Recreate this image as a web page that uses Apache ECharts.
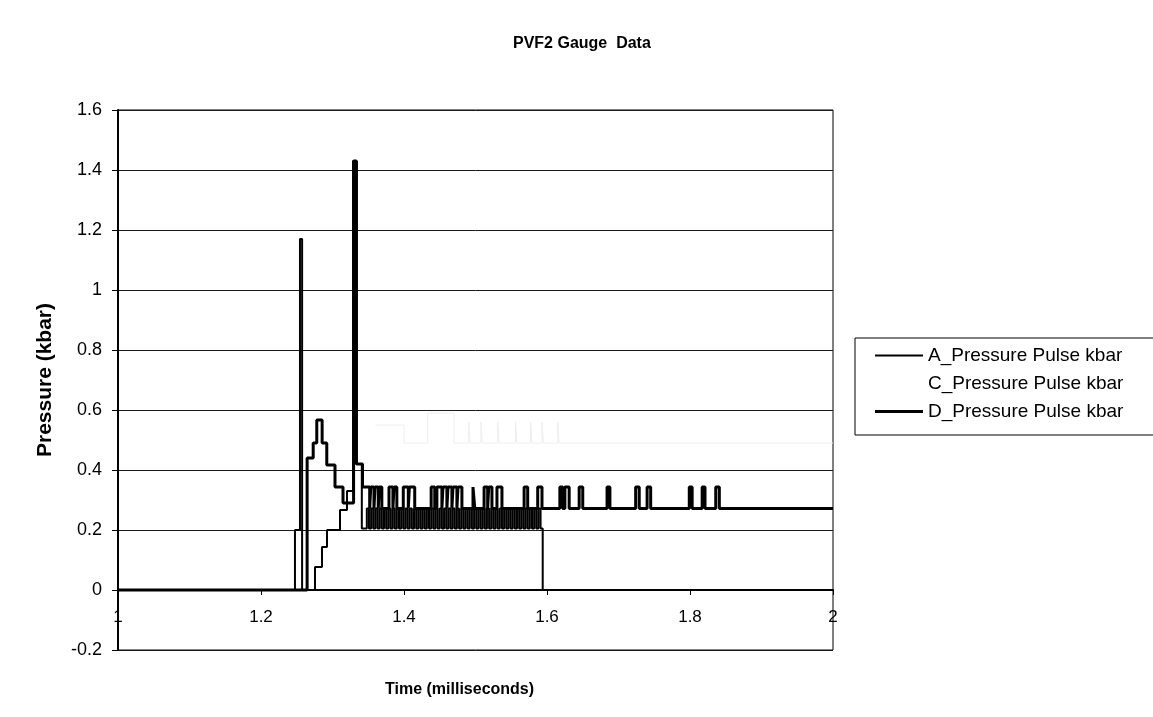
<!DOCTYPE html>
<html>
<head>
<meta charset="utf-8">
<script src="https://cdn.jsdelivr.net/npm/echarts@6/dist/echarts.min.js"></script>
<style>
html,body{margin:0;padding:0;background:#fff;}
#chart{width:1153px;height:717px;}
</style>
</head>
<body>
<div id="chart"></div>
<script>
// ---- data (time in ms, pressure in kbar) ----
const seriesNames = ['A_Pressure Pulse kbar', 'C_Pressure Pulse kbar', 'D_Pressure Pulse kbar'];
const xTickLabels = ['1', '1.2', '1.4', '1.6', '1.8', '2'];
const yTickLabels = ['-0.2', '0', '0.2', '0.4', '0.6', '0.8', '1', '1.2', '1.4', '1.6'];

// A: first spike, inner staircase, dense band 0.205-0.272, drop to 0 at 1.594
const timeA = [1.0, 1.2475, 1.2545, 1.2575, 1.2755, 1.2853, 1.2923, 1.3105, 1.3203, 1.3287, 1.3335, 1.341,
  1.348, 1.351, 1.354, 1.357, 1.360, 1.363, 1.366, 1.369, 1.372, 1.375, 1.378, 1.381, 1.384, 1.387, 1.390,
  1.393, 1.396, 1.399, 1.402, 1.405, 1.408, 1.411, 1.414, 1.417, 1.420, 1.423, 1.426, 1.429, 1.432, 1.435,
  1.438, 1.441, 1.444, 1.447, 1.450, 1.453, 1.456, 1.459, 1.462, 1.465, 1.468, 1.471, 1.474, 1.477, 1.480,
  1.483, 1.486, 1.489, 1.492, 1.495, 1.498, 1.501, 1.504, 1.507, 1.510, 1.513, 1.516, 1.519, 1.522, 1.525,
  1.528, 1.531, 1.534, 1.537, 1.540, 1.543, 1.546, 1.549, 1.552, 1.555, 1.558, 1.561, 1.564, 1.567, 1.570,
  1.573, 1.576, 1.579, 1.582, 1.585, 1.588, 1.591, 1.594, 2.0];
const pressureA = [0, 0.2, 1.17, 0, 0.077, 0.143, 0.2, 0.267, 0.33, 1.43, 0.42, 0.205,
  0.272, 0.205, 0.272, 0.205, 0.272, 0.205, 0.272, 0.205, 0.272, 0.205, 0.272, 0.205, 0.272, 0.205, 0.272,
  0.205, 0.272, 0.205, 0.272, 0.205, 0.272, 0.205, 0.272, 0.205, 0.272, 0.205, 0.272, 0.205, 0.272, 0.205,
  0.272, 0.205, 0.272, 0.205, 0.272, 0.205, 0.272, 0.205, 0.272, 0.205, 0.272, 0.205, 0.272, 0.205, 0.272,
  0.205, 0.272, 0.205, 0.272, 0.205, 0.272, 0.205, 0.272, 0.205, 0.272, 0.205, 0.272, 0.205, 0.272, 0.205,
  0.272, 0.205, 0.272, 0.205, 0.272, 0.205, 0.272, 0.205, 0.272, 0.205, 0.272, 0.205, 0.272, 0.205, 0.272,
  0.205, 0.272, 0.205, 0.272, 0.205, 0.272, 0.205, 0, 0];

// C: faint (light coloured) trace around 0.5
const timeC = [1.36, 1.40, 1.433, 1.47, 1.4905, 1.4925, 1.5075, 1.5095, 1.531, 1.533, 1.556, 1.558,
  1.577, 1.579, 1.593, 1.595, 1.615, 1.617, 2.0];
const pressureC = [0.55, 0.49, 0.59, 0.49, 0.56, 0.49, 0.56, 0.49, 0.56, 0.49, 0.56, 0.49,
  0.56, 0.49, 0.56, 0.49, 0.56, 0.49, 0.49];

// D: outer staircase, big spike, pulses 0.272/0.343, then 0.272 to the end
const timeD = [1.0, 1.2645, 1.273, 1.278, 1.2855, 1.292, 1.3035, 1.3147, 1.3295, 1.3335, 1.342,
  1.352, 1.3535, 1.358, 1.3595, 1.364, 1.3655, 1.369,
  1.379, 1.3845, 1.386, 1.390,
  1.399, 1.406, 1.4075, 1.415,
  1.438, 1.443,
  1.446, 1.453, 1.4545, 1.460, 1.4615, 1.467, 1.4685, 1.474, 1.4755, 1.481,
  1.4965, 1.499,
  1.512, 1.517, 1.5185, 1.523,
  1.530, 1.537, 1.568, 1.573, 1.587, 1.593, 1.618, 1.622, 1.625, 1.631, 1.645, 1.650,
  1.684, 1.688, 1.724, 1.729, 1.740, 1.745, 1.799, 1.803, 1.817, 1.821, 1.836, 1.841, 2.0];
const pressureD = [0, 0.44, 0.49, 0.567, 0.49, 0.417, 0.343, 0.29, 1.43, 0.42, 0.343,
  0.272, 0.343, 0.272, 0.343, 0.272, 0.343, 0.272,
  0.343, 0.272, 0.343, 0.272,
  0.343, 0.272, 0.343, 0.272,
  0.343, 0.272,
  0.343, 0.272, 0.343, 0.272, 0.343, 0.272, 0.343, 0.272, 0.343, 0.272,
  0.343, 0.272,
  0.343, 0.272, 0.343, 0.272,
  0.343, 0.272, 0.343, 0.272, 0.343, 0.272, 0.343, 0.272, 0.343, 0.272, 0.343, 0.272,
  0.343, 0.272, 0.343, 0.272, 0.343, 0.272, 0.343, 0.272, 0.343, 0.272, 0.343, 0.272, 0.272];

function zip(t, v) { return t.map((x, i) => [x, v[i]]); }

const FONT = '"Liberation Sans", Arial, sans-serif';
const chart = echarts.init(document.getElementById('chart'), null, { renderer: 'canvas' });

chart.setOption({
  backgroundColor: '#ffffff',
  animation: false,
  title: [
    { text: 'PVF2 Gauge  Data', left: 508, top: 31,
      textStyle: { fontFamily: FONT, fontSize: 16, fontWeight: 'bold', color: '#000' } },
    { text: 'Time (milliseconds)', left: 380, top: 677,
      textStyle: { fontFamily: FONT, fontSize: 16, fontWeight: 'bold', color: '#000' } }
  ],
  legend: {
    orient: 'vertical',
    left: 855, top: 338,
    padding: [8, 40, 14, 20],
    itemWidth: 48, itemHeight: 12, itemGap: 9,
    borderColor: '#000', borderWidth: 1,
    backgroundColor: '#fff',
    textStyle: { fontFamily: FONT, fontSize: 19, color: '#000', lineHeight: 18 },
    data: [
      { name: seriesNames[0], icon: 'path://M0,0 L48,0 L48,2 L0,2 Z', itemStyle: { color: '#000' } },
      { name: seriesNames[1], icon: 'path://M0,0 L48,0 L48,2 L0,2 Z', itemStyle: { color: '#ffffff' } },
      { name: seriesNames[2], icon: 'path://M0,0 L48,0 L48,3 L0,3 Z', itemStyle: { color: '#000' } }
    ]
  },
  grid: {
    left: 118, right: 320, top: 110, bottom: 67,
    show: true, borderColor: '#000', borderWidth: 1, backgroundColor: 'transparent'
  },
  xAxis: {
    type: 'value', min: 1, max: 2, interval: 0.2,
    position: 'bottom', offset: -60,
    axisLine: { onZero: false, lineStyle: { color: '#000', width: 2 } },
    axisTick: { show: true, length: 5, lineStyle: { color: '#000' } },
    splitLine: { show: false },
    axisLabel: {
      fontFamily: FONT, fontSize: 17, color: '#000', margin: 19,
      formatter: function (v) { return xTickLabels[Math.round((v - 1) / 0.2)]; }
    }
  },
  yAxis: {
    type: 'value', min: -0.2, max: 1.6, interval: 0.2,
    name: 'Pressure (kbar)', nameLocation: 'middle', nameGap: 62,
    nameTextStyle: { fontFamily: FONT, fontSize: 21, fontWeight: 'bold', color: '#000' },
    axisLine: { show: true, onZero: false, lineStyle: { color: '#000', width: 2 } },
    axisTick: { show: true, length: 6, lineStyle: { color: '#000' } },
    splitLine: { show: true, lineStyle: { color: '#1a1a1a', width: 1 } },
    axisLabel: {
      fontFamily: FONT, fontSize: 18, color: '#000', margin: 16,
      formatter: function (v) { return yTickLabels[Math.round((v + 0.2) / 0.2)]; }
    }
  },
  series: [
    { name: seriesNames[0], type: 'line', step: 'end', symbol: 'none', showSymbol: false,
      data: zip(timeA, pressureA), lineStyle: { color: '#000', width: 2 }, itemStyle: { color: '#000' }, z: 3 },
    { name: seriesNames[1], type: 'line', step: 'end', symbol: 'none', showSymbol: false,
      data: zip(timeC, pressureC), lineStyle: { color: '#eeeeee', width: 1 }, itemStyle: { color: '#ffffff' }, z: 2 },
    { name: seriesNames[2], type: 'line', step: 'end', symbol: 'none', showSymbol: false,
      data: zip(timeD, pressureD), lineStyle: { color: '#000', width: 3 }, itemStyle: { color: '#000' }, z: 4 }
  ]
});
</script>
</body>
</html>
